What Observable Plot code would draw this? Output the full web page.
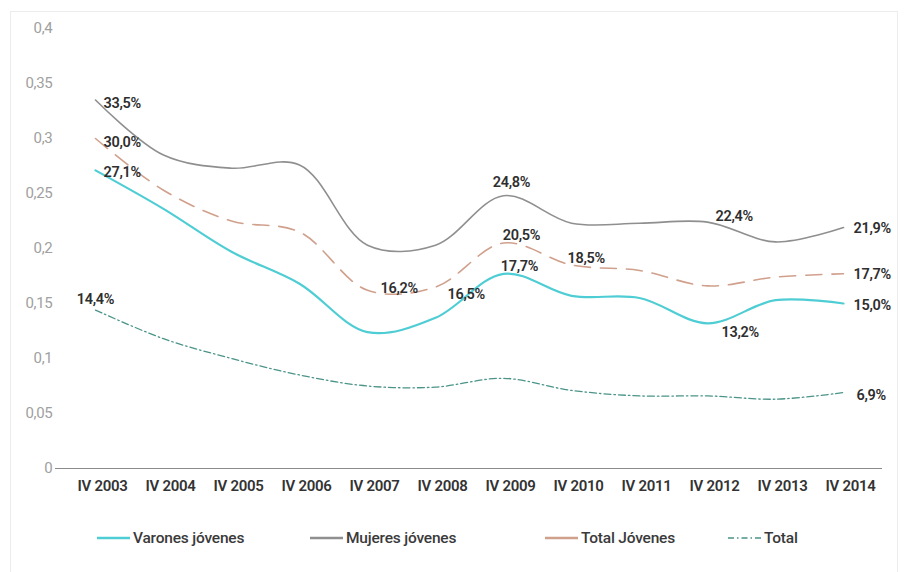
<!DOCTYPE html>
<html>
<head>
<meta charset="utf-8">
<script src="https://cdn.jsdelivr.net/npm/d3@7"></script>
<script src="https://cdn.jsdelivr.net/npm/@observablehq/plot@0.6"></script>
<style>
  html, body { margin: 0; padding: 0; background: #fff; }
  #wrap { position: relative; width: 904px; height: 572px; overflow: hidden; font-family: Roboto, "Noto Sans", sans-serif; }
  #frame { position: absolute; left: 10px; top: 11px; width: 888px; height: 600px; border: 1px solid #ececec; box-sizing: border-box; }
  #chart { position: absolute; left: 0; top: 0; }
  #legend { position: absolute; left: 0; top: 527px; width: 904px; height: 22px; font-size: 15.5px; color: #3a3a3a; font-weight: 500; letter-spacing: -0.2px; }
  .item { position: absolute; top: 0; display: flex; align-items: center; height: 22px; }
  .item svg { margin-right: 3px; }
</style>
</head>
<body>
<div id="wrap">
  <div id="frame"></div>
  <div id="chart"></div>
  <div id="legend"></div>
</div>
<script>
// ---- data ----
const years = ["IV 2003","IV 2004","IV 2005","IV 2006","IV 2007","IV 2008","IV 2009","IV 2010","IV 2011","IV 2012","IV 2013","IV 2014"];
const varones      = [0.271, 0.236, 0.197, 0.168, 0.124, 0.137, 0.177, 0.157, 0.155, 0.132, 0.153, 0.150];
const mujeres      = [0.335, 0.285, 0.273, 0.276, 0.203, 0.203, 0.248, 0.223, 0.223, 0.224, 0.206, 0.219];
const totalJovenes = [0.300, 0.253, 0.225, 0.215, 0.162, 0.165, 0.205, 0.185, 0.180, 0.166, 0.174, 0.177];
const total        = [0.144, 0.118, 0.100, 0.085, 0.075, 0.074, 0.082, 0.071, 0.066, 0.066, 0.063, 0.069];
const yTicks = [0, 0.05, 0.1, 0.15, 0.2, 0.25, 0.3, 0.35, 0.4];
const seriesNames = ["Varones jóvenes", "Mujeres jóvenes", "Total Jóvenes", "Total"];
// labelled points: [series index, year index]
const labelled = [
  [1,0],[2,0],[0,0],[3,0],
  [1,6],[2,6],[0,6],
  [2,4],[2,5],[2,7],
  [1,9],[0,9],
  [1,11],[2,11],[0,11],[3,11]
];

// ---- styles (not data) ----
const styles = [
  {stroke: "#4fcdd4", strokeWidth: 2.2, dash: null},
  {stroke: "#8f8f8f", strokeWidth: 1.6, dash: null},
  {stroke: "#d0a08c", strokeWidth: 1.6, dash: "16,10"},
  {stroke: "#4a9488", strokeWidth: 1.3, dash: "7,3,1.5,3"}
];
const legendLeft = [97, 310, 545, 728];
// label offsets keyed by "series-year"
const labelLayout = {
  "1-0": {dx: 8, dy: 3, anchor: "start"},
  "2-0": {dx: 8, dy: 4, anchor: "start"},
  "0-0": {dx: 8, dy: 2, anchor: "start"},
  "3-0": {dx: 0, dy: -11, anchor: "middle"},
  "1-6": {dx: 8, dy: -13, anchor: "middle"},
  "2-6": {dx: 18, dy: -8, anchor: "middle"},
  "0-6": {dx: 16, dy: -7, anchor: "middle"},
  "2-4": {dx: 13, dy: -2, anchor: "start"},
  "2-5": {dx: 12, dy: 7, anchor: "start"},
  "2-7": {dx: -4, dy: -7, anchor: "start"},
  "1-9": {dx: 8, dy: -6, anchor: "start"},
  "0-9": {dx: 14, dy: 9, anchor: "start"},
  "1-11": {dx: 10, dy: 1, anchor: "start"},
  "2-11": {dx: 10, dy: 1, anchor: "start"},
  "0-11": {dx: 10, dy: 2, anchor: "start"},
  "3-11": {dx: 13, dy: 3, anchor: "start"}
};

const allSeries = [varones, mujeres, totalJovenes, total];
const rows = allSeries.map((vals, s) => vals.map((v, i) => ({series: seriesNames[s], year: years[i], value: v})));
const fmtPct = v => (v * 100).toFixed(1).replace(".", ",") + "%";
const comma = d => String(d).replace(".", ",");

const lineMarks = rows.map((r, s) => Plot.line(r, {
  x: "year", y: "value", curve: "catmull-rom",
  stroke: styles[s].stroke, strokeWidth: styles[s].strokeWidth,
  strokeDasharray: styles[s].dash
}));

const labelMarks = labelled.map(([s, i]) => {
  const L = labelLayout[s + "-" + i];
  return Plot.text([rows[s][i]], {
    x: "year", y: "value", text: d => fmtPct(d.value),
    dx: L.dx, dy: L.dy, textAnchor: L.anchor,
    fill: "#2e2e2e", fontSize: 14.5, fontWeight: 600
  });
});

const chart = Plot.plot({
  width: 904, height: 510,
  marginLeft: 55, marginRight: 22, marginTop: 28, marginBottom: 42,
  style: {fontFamily: "Roboto, 'Noto Sans', sans-serif", background: "transparent"},
  x: {type: "point", domain: years, padding: 0.5},
  y: {domain: [0, 0.4]},
  marks: [
    Plot.axisY({ticks: yTicks, tickSize: 0, tickPadding: 3, tickFormat: comma, fill: "#a0a0a0", fontSize: 15, label: null}),
    Plot.axisX({tickSize: 0, tickPadding: 12, fill: "#333", fontSize: 15, fontWeight: 600, dx: 7, label: null}),
    Plot.ruleY([0], {stroke: "#8a8a8a", strokeWidth: 1}),
    ...lineMarks,
    ...labelMarks
  ]
});
chart.querySelectorAll("text").forEach(t => t.style.letterSpacing = "-0.3px");
document.getElementById("chart").appendChild(chart);

// legend
const legend = document.getElementById("legend");
seriesNames.forEach((name, s) => {
  const item = document.createElement("div");
  item.className = "item";
  item.style.left = legendLeft[s] + "px";
  const st = styles[s];
  item.innerHTML = `<svg width="33" height="10"><line x1="0" y1="5" x2="33" y2="5" stroke="${st.stroke}" stroke-width="${s === 3 ? 1.3 : 2.5}" ${s === 3 ? 'stroke-dasharray="6,3,1.5,3"' : ''}/></svg><span>${name}</span>`;
  legend.appendChild(item);
});
</script>
</body>
</html>
